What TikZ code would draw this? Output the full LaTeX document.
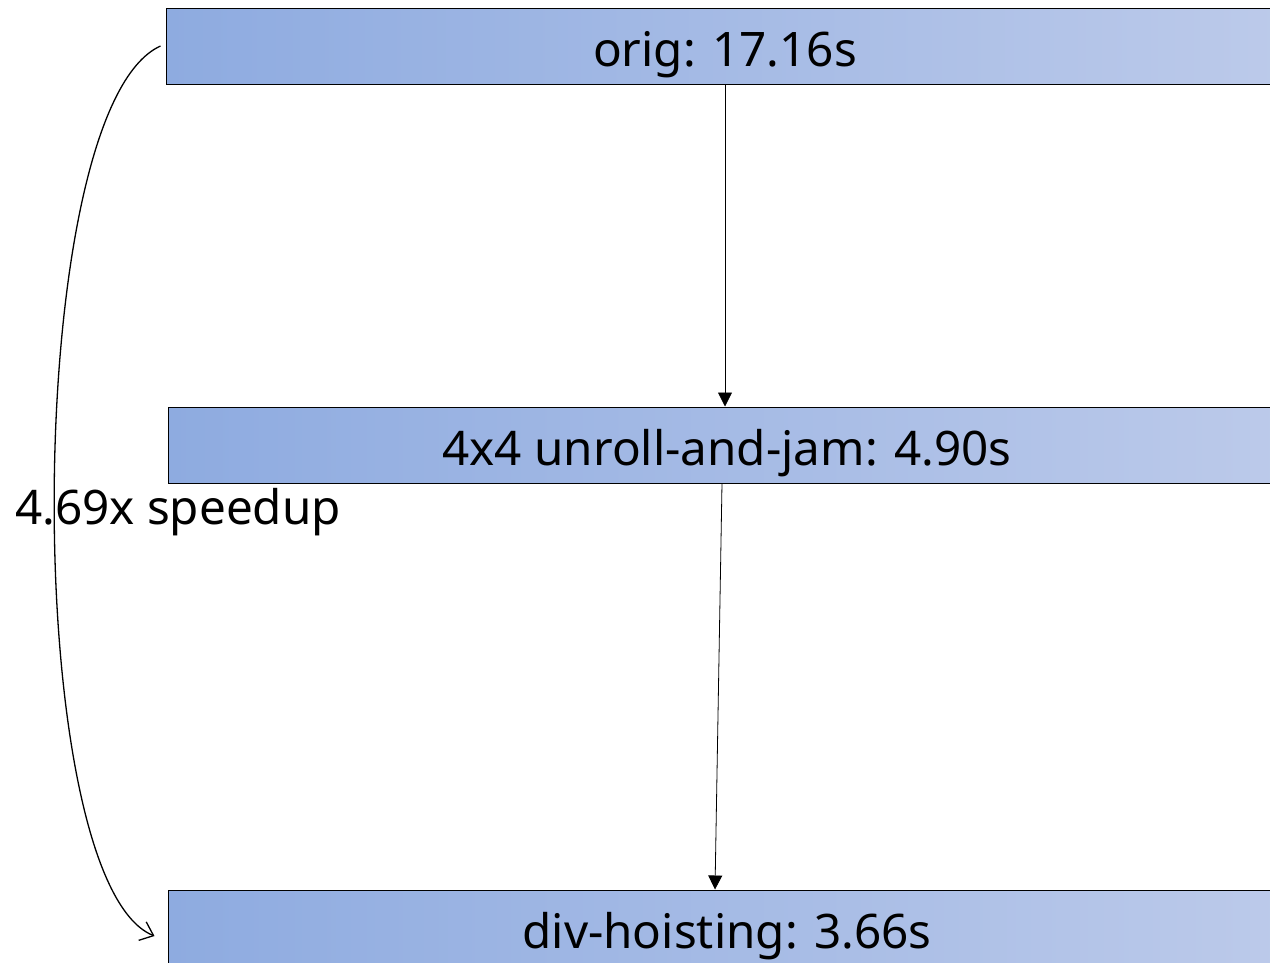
\documentclass[tikz,border=0pt]{standalone}
\usepackage{fontspec}
\setmainfont{Noto Sans}
\usepackage{xcolor}
\usetikzlibrary{arrows.meta, calc}
\definecolor{stepleft}{RGB}{142,171,224}
\definecolor{stepright}{RGB}{188,202,234}

\begin{document}
\begin{tikzpicture}[x=1pt, y=-1pt,
    font=\fontsize{47.6}{57}\selectfont,
    stepbox/.style={draw=black, line width=1pt, left color=stepleft, right color=stepright,
        minimum width=1118pt, minimum height=76pt, inner sep=0pt,
        text height=40pt, text depth=0pt},
    flow/.style={-{Triangle[width=14pt,length=14pt]}, line width=0.8pt},
    speedup/.style={-{Straight Barb[length=12pt,width=20pt]}, line width=1.3pt}
    ]
            \useasboundingbox (0,0) rectangle (1270,962);
            \clip (0,0) rectangle (1270,962);

            \node[stepbox] (orig) at (725,46) {orig: 17.16s};
            \node[stepbox] (unroll) at (727,445) {4x4 unroll-and-jam: 4.90s};
            \node[stepbox] (hoist) at (727,928) {div-hoisting: 3.66s};

            \draw[flow] (orig.south -| 725,0) -- (unroll.north -| 725,0);
            \draw[flow] (unroll.south -| 722,0) -- (hoist.north -| 715,0);

            \draw[speedup]
            ([xshift=-5pt]orig.west)
            .. controls +(-140,63) and +(-135,-55) ..
            ([xshift=-13pt,yshift=-8pt]hoist.west)
            node[pos=0.52, anchor=west, xshift=-40pt, yshift=7pt, inner sep=0pt] (gain) {4.69x speedup};
\end{tikzpicture}
\end{document}
